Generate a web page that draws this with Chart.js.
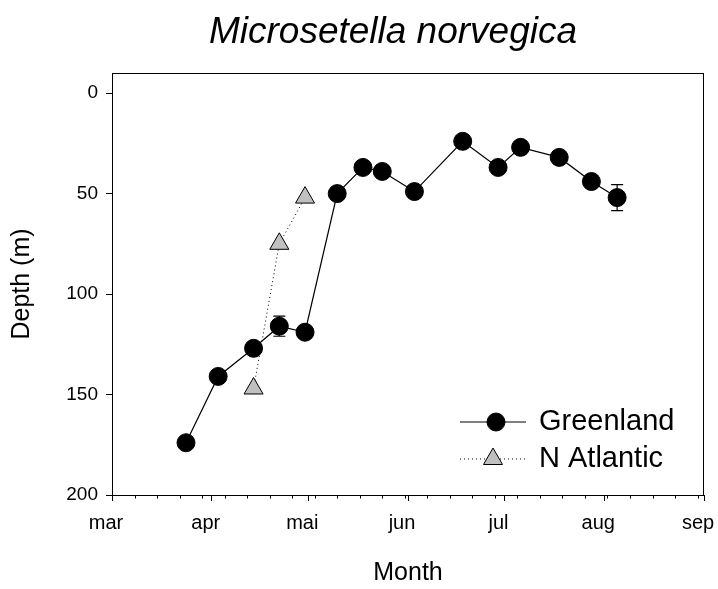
<!DOCTYPE html>
<html>
<head>
<meta charset="utf-8">
<script src="https://cdn.jsdelivr.net/npm/chart.js@4/dist/chart.umd.min.js"></script>
<style>
  body { margin: 0; background: #fff; }
  #wrap { width: 718px; height: 589px; }
</style>
</head>
<body>
<div id="wrap"><canvas id="graph" width="718" height="589"></canvas></div>
<script>
// days counted from 1 March
const monthDays = [0, 31, 61, 92, 122, 153, 184];
const monthLabels = ['mar', 'apr', 'mai', 'jun', 'jul', 'aug', 'sep'];
const depthTicks = [0, 50, 100, 150, 200];

const greenlandDay = [23, 33, 44, 52, 60, 70, 78, 84, 94, 109, 120, 127, 139, 149, 157];
const greenlandDepth = [174, 141, 127, 116, 119, 50, 37, 39, 49, 24, 37, 27, 32, 44, 52];
const greenlandErr = [0, 0, 0, 5, 0, 0, 0, 0, 0, 0, 0, 0, 0, 0, 6.5];

const atlanticDay = [44, 52, 60];
const atlanticDepth = [147, 75, 52];

const FONT = '"Liberation Sans", Arial, sans-serif';

function points(xs, ys) {
    let out = [];
    for (let i = 0; i < xs.length; i++) {
        out.push({x: xs[i], y: ys[i]});
    }
    return out;
}

const extras = {
    id: 'extras',
    beforeDatasetsDraw(chart) {
        // error bars behind the markers
        const c = chart.ctx, x = chart.scales.x, y = chart.scales.y;
        c.save();
        c.strokeStyle = '#000';
        c.lineWidth = 1.2;
        for (let i = 0; i < greenlandDay.length; i++) {
            if (!greenlandErr[i]) continue;
            const px = x.getPixelForValue(greenlandDay[i]);
            const y1 = y.getPixelForValue(greenlandDepth[i] - greenlandErr[i]);
            const y2 = y.getPixelForValue(greenlandDepth[i] + greenlandErr[i]);
            c.beginPath();
            c.moveTo(px, y1); c.lineTo(px, y2);
            c.moveTo(px - 6, y1); c.lineTo(px + 6, y1);
            c.moveTo(px - 6, y2); c.lineTo(px + 6, y2);
            c.stroke();
        }
        c.restore();
    },
    afterDraw(chart) {
        const c = chart.ctx, a = chart.chartArea, x = chart.scales.x;
        c.save();
        // frame
        c.strokeStyle = '#000';
        c.lineWidth = 1;
        c.strokeRect(a.left + 0.5, a.top + 0.5, a.right - a.left - 1, a.bottom - a.top);
        // weekly minor ticks
        c.beginPath();
        for (let d = 7; d < 184; d += 7) {
            const px = Math.round(x.getPixelForValue(d)) + 0.5;
            c.moveTo(px, a.bottom);
            c.lineTo(px, a.bottom + 3.5);
        }
        c.stroke();

        // title
        c.fillStyle = '#000';
        c.font = 'italic 37px ' + FONT;
        c.textAlign = 'center';
        c.textBaseline = 'middle';
        c.fillText('Microsetella norvegica', 393, 33);

        // legend
        const ds = chart.data.datasets;
        c.font = '29px ' + FONT;
        c.textAlign = 'left';
        const rows = [[422, 0, 496], [459, 1, 493]];
        for (let r = 0; r < rows.length; r++) {
            const ly = rows[r][0], d = ds[rows[r][1]], mx = rows[r][2];
            c.beginPath();
            c.strokeStyle = '#000';
            c.setLineDash(d.borderDash || []);
            c.lineWidth = d.borderWidth;
            c.moveTo(460, ly); c.lineTo(526, ly);
            c.stroke();
            c.setLineDash([]);
            c.fillStyle = d.pointBackgroundColor;
            c.lineWidth = d.pointBorderWidth;
            Chart.helpers.drawPoint(c, {pointStyle: d.pointStyle, radius: d.pointRadius, borderWidth: 1}, mx, ly);
            c.fillStyle = '#000';
            c.fillText(d.label, 539, ly);
        }
        c.restore();
    }
};

const ctx = document.getElementById('graph');
var config = {
    type: 'line',
    data: {
        datasets: [{
            label: 'Greenland',
            data: points(greenlandDay, greenlandDepth),
            borderColor: '#000',
            borderWidth: 1.2,
            pointStyle: 'circle',
            pointRadius: 9,
            pointBackgroundColor: '#000',
            pointBorderColor: '#000',
            pointBorderWidth: 1
        }, {
            label: 'N Atlantic',
            data: points(atlanticDay, atlanticDepth),
            borderColor: '#000',
            borderWidth: 1,
            borderDash: [1, 3],
            pointStyle: 'triangle',
            pointRadius: 11,
            pointBackgroundColor: '#c0c0c0',
            pointBorderColor: '#000',
            pointBorderWidth: 1
        }]
    },
    options: {
        responsive: false,
        animation: false,
        layout: { padding: { top: 73, right: 14, left: 0, bottom: 0 } },
        plugins: {
            legend: { display: false },
            tooltip: { enabled: false }
        },
        scales: {
            x: {
                type: 'linear',
                min: 0,
                max: 184,
                afterBuildTicks: (s) => { s.ticks = monthDays.map(v => ({value: v})); },
                afterFit: (s) => { s.height = 94; s.paddingLeft = 0; s.paddingRight = 0; },
                ticks: {
                    color: '#000',
                    font: { family: FONT, size: 20 },
                    padding: 10,
                    labelOffset: -6,
                    maxRotation: 0,
                    autoSkip: false,
                    callback: (v) => monthLabels[monthDays.indexOf(v)]
                },
                grid: { drawOnChartArea: false, tickLength: 6, color: '#000' },
                border: { color: '#000' },
                title: {
                    display: true,
                    text: 'Month',
                    color: '#000',
                    font: { family: FONT, size: 25 },
                    padding: { top: 0, bottom: 1 }
                }
            },
            y: {
                type: 'linear',
                reverse: true,
                min: -10,
                max: 200,
                afterBuildTicks: (s) => { s.ticks = depthTicks.map(v => ({value: v})); },
                afterFit: (s) => { s.width = 112; s.paddingTop = 0; s.paddingBottom = 0; },
                ticks: {
                    color: '#000',
                    font: { family: FONT, size: 19 },
                    padding: 8
                },
                grid: { drawOnChartArea: false, tickLength: 6, color: '#000' },
                border: { color: '#000' },
                title: {
                    display: true,
                    text: 'Depth (m)',
                    color: '#000',
                    font: { family: FONT, size: 25 },
                    padding: { top: 7, bottom: 0 }
                }
            }
        }
    },
    plugins: [extras]
};
var chart = new Chart(ctx, config);
</script>
</body>
</html>
